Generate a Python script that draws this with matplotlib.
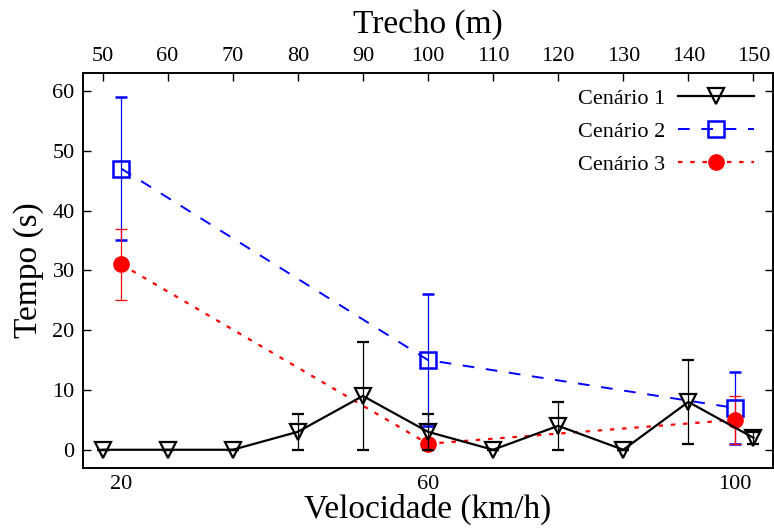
import numpy as np
import matplotlib
matplotlib.use("Agg")
import matplotlib.pyplot as plt

plt.rcParams['font.family'] = ['Liberation Serif', 'DejaVu Serif']

# Cenario 1 -> top axis (Trecho, m)
trecho = [50, 60, 70, 80, 90, 100, 110, 120, 130, 140, 150]
c1_tempo = [0, 0, 0, 3, 9, 3, 0, 4, 0, 8, 2]
c1_err = [0, 0, 0, 3, 9, 3, 0, 4, 0, 7, 1]

# Cenarios 2 and 3 -> bottom axis (Velocidade, km/h)
velocidade = [20, 60, 100]
c2_tempo = [47, 15, 7]
c2_err = [12, 11, 6]
c3_tempo = [31, 1, 5]
c3_err = [6, 0, 4]

fig = plt.figure(figsize=(7.74, 5.28), dpi=100)
ax = fig.add_axes([0.1072, 0.1142, 0.8915, 0.7475])
ax2 = ax.twiny()

h2 = ax.errorbar(velocidade, c2_tempo, yerr=c2_err, color="blue", ls=(0, (6, 6)),
                 lw=1.4, marker="s", ms=11, mfc="none", mew=1.8, elinewidth=0.9,
                 capsize=4, capthick=0.9, label="Cenário 2")
h3 = ax.errorbar(velocidade, c3_tempo, yerr=c3_err, color="red", ls=(0, (2, 3.5)),
                 lw=1.6, marker="o", ms=11, elinewidth=0.9,
                 capsize=4, capthick=0.9, label="Cenário 3")
h1 = ax2.errorbar(trecho, c1_tempo, yerr=c1_err, color="black", ls="-",
                  lw=1.6, marker="v", ms=12, mfc="none", mew=1.6, elinewidth=0.9,
                  capsize=4, capthick=0.9, label="Cenário 1")

ax.set_xlim(15, 105)
ax.set_ylim(-3, 63)
ax2.set_xlim(47, 153)

ax.set_xticks([20, 60, 100])
ax.set_yticks(range(0, 61, 10))
ax2.set_xticks(range(50, 151, 10))

ax.tick_params(axis="x", length=0, labelsize=16, pad=5)
ax.tick_params(axis="y", direction="in", length=6, width=1, labelsize=16,
               right=True, pad=6)
ax2.tick_params(axis="x", direction="in", length=6, width=1, labelsize=16, pad=5)

for a in (ax, ax2):
    for s in a.spines.values():
        s.set_linewidth(1.2)

ax.set_xlabel("Velocidade (km/h)", fontsize=24, labelpad=0)
ax.set_ylabel("Tempo (s)", fontsize=24, labelpad=6)
ax2.set_xlabel("Trecho (m)", fontsize=24, labelpad=10)

ax2.legend([h1[0], h2[0], h3[0]], ["Cenário 1", "Cenário 2", "Cenário 3"],
           loc="upper right", frameon=False, fontsize=16, markerfirst=False,
           handlelength=3.4, handletextpad=0.6, labelspacing=0.55,
           borderaxespad=0.3, bbox_to_anchor=(0.995, 1.0))

fig.savefig("out.png", dpi=100)
